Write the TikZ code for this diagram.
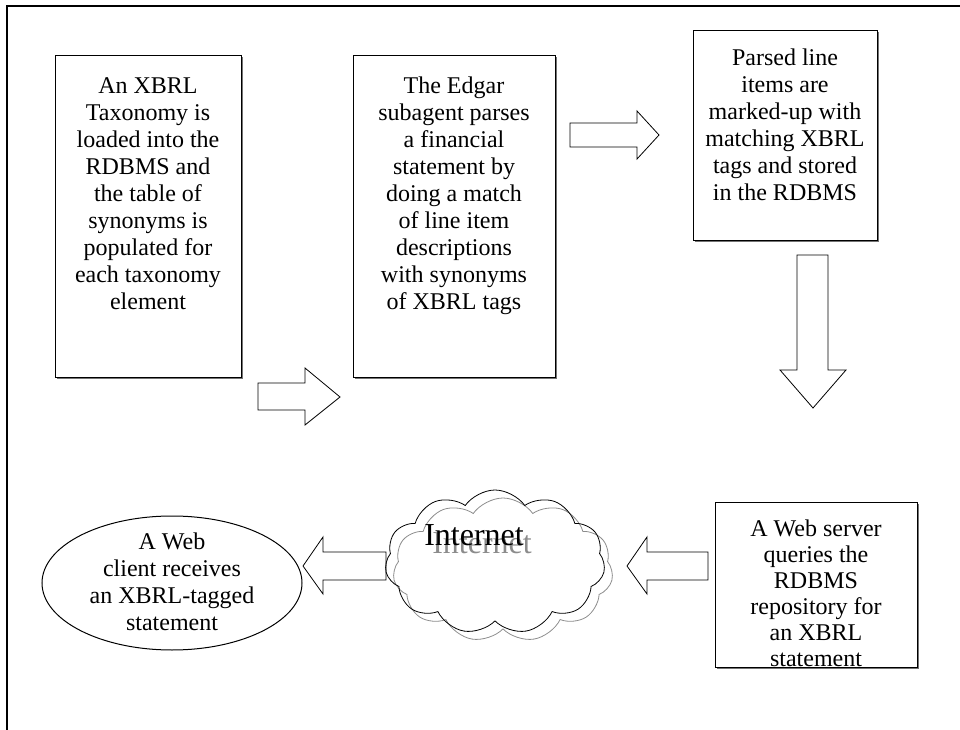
\documentclass[tikz,border=0pt]{standalone}
\usepackage{fontspec}
\setmainfont{Liberation Serif}
\usetikzlibrary{shapes.symbols,shapes.geometric,shadows}
\begin{document}
\begin{tikzpicture}[x=0.75pt,y=-0.75pt,
  boxsty/.style={draw=black,line width=0.75pt,fill=white,inner sep=0pt,anchor=north west,
     drop shadow={shadow xshift=1pt,shadow yshift=-1pt,fill=black!55,opacity=1}},
  txt/.style={font=\fontsize{18}{20.25}\selectfont,align=center,inner sep=0pt,anchor=north},
  blockarrow/.style={draw=black,line width=0.6pt,fill=white,line join=miter},
  cloudsty/.style={cloud,line width=0.6pt,cloud puffs=11,cloud puff arc=110,aspect=1.5,
      minimum width=165pt,minimum height=108pt,inner sep=0pt},
  frame/.style={draw=black,line width=1.6pt}]
\useasboundingbox (0,0) rectangle (960,730);
\clip (0,0) rectangle (960,730);
% outer frame
\draw[frame] (7,760) -- (7,6) -- (980,6);
% boxes
\node[boxsty,minimum width=139.5pt,minimum height=241.5pt] (b1) at (55,55) {};
\node[txt] (t1) at (148,77) {An XBRL\\Taxonomy is\\loaded into the\\RDBMS and\\the table of\\synonyms is\\populated for\\each taxonomy\\element};
\node[boxsty,minimum width=151.5pt,minimum height=241.5pt] (b2) at (353,55) {};
\node[txt] (t2) at (454,77) {The Edgar\\subagent parses\\a financial\\statement by\\doing a match\\of line item\\descriptions\\with synonyms\\of XBRL tags};
\node[boxsty,minimum width=138pt,minimum height=157.5pt] (b3) at (693,30) {};
\node[txt] (t3) at (785,49) {Parsed line\\items are\\marked-up with\\matching XBRL\\tags and stored\\in the RDBMS};
\node[boxsty,minimum width=151.5pt,minimum height=123.75pt] (b4) at (715,502) {};
\node[txt,font=\fontsize{18}{19.5}\selectfont] (t4) at (816,520) {A Web server\\queries the\\RDBMS\\repository for\\an XBRL\\statement};
% ellipse
\node[draw=black,line width=0.75pt,ellipse,minimum width=195pt,minimum height=100.5pt,inner sep=0pt] (e) at (172,583) {};
\node[txt,anchor=center] (te) at (172,582) {A Web\\client receives\\an XBRL-tagged\\statement};
% block arrows
\draw[blockarrow] (258,383) -- (305,383) -- (305,368) -- (340,397) -- (305,425) -- (305,410) -- (258,410) -- cycle;
\draw[blockarrow] (570,123) -- (637,123) -- (637,111) -- (659,135) -- (637,159) -- (637,147) -- (570,147) -- cycle;
\draw[blockarrow] (797,255) -- (828,255) -- (828,370) -- (846,370) -- (813,408) -- (780,370) -- (797,370) -- cycle;
\draw[blockarrow] (708,552) -- (647,552) -- (647,537) -- (627,566) -- (647,594) -- (647,580) -- (708,580) -- cycle;
\draw[blockarrow] (386,552) -- (323,552) -- (323,537) -- (303,566) -- (323,594) -- (323,580) -- (386,580) -- cycle;
% cloud with shadow
\node[cloudsty,draw=black!45] (cs) at (503,570) {};
\node[cloudsty,draw=black] (c) at (495,562) {};
\node[font=\fontsize{24}{28}\selectfont,text=black!45,inner sep=0pt,anchor=base] (its) at (482,553) {Internet};
\node[font=\fontsize{24}{28}\selectfont,text=black,inner sep=0pt,anchor=base] (it) at (474,545) {Internet};
\end{tikzpicture}
\end{document}
